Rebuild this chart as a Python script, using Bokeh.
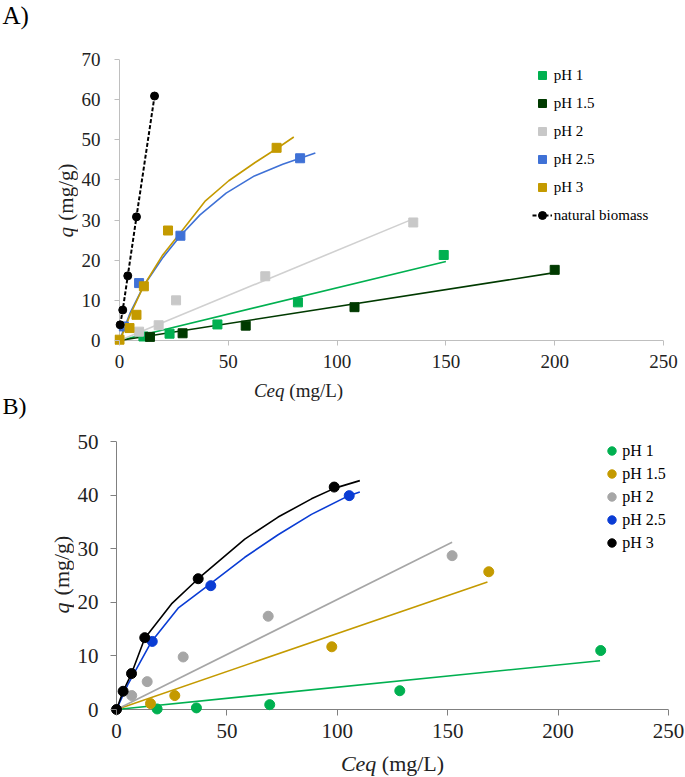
import math
from bokeh.plotting import figure
from bokeh.models import Range1d, Legend, LegendItem, Label, FixedTicker
from bokeh.layouts import column, row
from bokeh.embed import file_html
from bokeh.resources import INLINE

# ---------------- Panel A data (squares = pH series, natural biomass = dashed) -------------
a_ph1_x = [11, 23, 45, 82, 149]
a_ph1_y = [1.0, 1.7, 4.0, 9.5, 21.3]
a_ph1_fit_x = [0, 150]
a_ph1_fit_y = [0, 19.7]

a_ph15_x = [14, 29, 58, 108, 200]
a_ph15_y = [0.9, 1.8, 3.7, 8.3, 17.6]
a_ph15_fit_x = [0, 200]
a_ph15_fit_y = [0, 16.9]

a_ph2_x = [9, 18, 26, 67, 135]
a_ph2_y = [2.2, 3.8, 10.0, 16.0, 29.4]
a_ph2_fit_x = [0, 135]
a_ph2_fit_y = [0, 30.3]

a_ph25_x = [2, 9, 28, 83]
a_ph25_y = [3.5, 14.3, 26.1, 45.4]
a_ph25_fit_x = [0, 5, 11, 20, 28, 37, 49, 62, 75, 83, 90]
a_ph25_fit_y = [0, 7.0, 13.5, 20.7, 26.1, 31.3, 36.7, 41.0, 43.9, 45.4, 46.7]

a_ph3_x = [0, 4.6, 7.8, 11.2, 22.3, 72.2]
a_ph3_y = [0.2, 3.1, 6.4, 13.5, 27.4, 48.0]
a_ph3_fit_x = [0.5, 5, 11.2, 19.6, 28.8, 39.5, 50.2, 62.5, 72.5, 80.1]
a_ph3_fit_y = [0.4, 6.5, 13.7, 21.1, 27.4, 34.8, 39.8, 44.4, 47.9, 50.7]

a_nat_x = [0.3, 1.5, 3.8, 7.8, 16.1]
a_nat_y = [3.9, 7.6, 16.1, 30.8, 60.9]

a_xticks = [0, 50, 100, 150, 200, 250]
a_yticks = [0, 10, 20, 30, 40, 50, 60, 70]

# ---------------- Panel B data (circles) -------------
b_ph1_x = [18.4, 36.2, 69.4, 128.3, 219.3]
b_ph1_y = [0.1, 0.3, 0.9, 3.5, 11.0]
b_ph1_fit_x = [0, 219]
b_ph1_fit_y = [0, 9.1]

b_ph15_x = [15.4, 26.4, 97.5, 168.6]
b_ph15_y = [1.1, 2.6, 11.7, 25.7]
b_ph15_fit_x = [0, 168]
b_ph15_fit_y = [0, 23.8]

b_ph2_x = [6.9, 13.9, 30.2, 68.7, 152]
b_ph2_y = [2.6, 5.2, 9.8, 17.4, 28.7]
b_ph2_fit_x = [0, 152]
b_ph2_fit_y = [0, 31.2]

b_ph25_x = [16.2, 42.7, 105.4]
b_ph25_y = [12.7, 23.1, 39.9]
b_ph25_fit_x = [0, 5.3, 15.9, 27.9, 42.6, 58.1, 73.2, 88.3, 105.2, 110.2]
b_ph25_fit_y = [0, 4.8, 12.7, 18.9, 23.5, 28.4, 32.6, 36.4, 39.9, 40.6]

b_ph3_x = [0, 3.0, 6.8, 12.8, 37.0, 98.6]
b_ph3_y = [0, 3.4, 6.7, 13.4, 24.4, 41.5]
b_ph3_fit_x = [0, 3, 6.8, 12.8, 24.9, 37, 58.1, 73.2, 88.3, 98.9, 110.2]
b_ph3_fit_y = [0, 3.4, 6.7, 13.3, 19.7, 24.4, 31.8, 35.9, 39.3, 41.3, 42.7]

b_xticks = [0, 50, 100, 150, 200, 250]
b_yticks = [0, 10, 20, 30, 40, 50]

series_labels = ["pH 1", "pH 1.5", "pH 2", "pH 2.5", "pH 3"]

# ---------------- styles -------------
SERIF = "Liberation Serif"
TXT = "#222222"
A_COL = ["#00B050", "#003A00", "#C8C8C8", "#3F71D6", "#C49A00"]
A_FIT = ["#00B050", "#003A00", "#D0D0D0", "#3F71D6", "#C49A00"]
B_COL = ["#00B050", "#C49A00", "#A6A6A6", "#0A3CD4", "#000000"]
W = 685


def style(p, xt, yt, tick_font, tick_len, std_x, std_y, tick_color):
    p.grid.visible = False
    p.outline_line_color = None
    p.xaxis.ticker = FixedTicker(ticks=xt)
    p.yaxis.ticker = FixedTicker(ticks=yt)
    for ax in (p.xaxis[0], p.yaxis[0]):
        ax.axis_line_color = None
        ax.major_tick_line_color = tick_color
        ax.major_tick_in = tick_len
        ax.major_tick_out = 0
        ax.minor_tick_line_color = None
        ax.major_label_text_font = SERIF
        ax.major_label_text_font_size = tick_font
        ax.major_label_text_color = TXT
    p.xaxis.major_label_standoff = std_x
    p.yaxis.major_label_standoff = std_y


def strip(w, h, x0, x1, ytop, ybot, bt=0, bb=0):
    """Text-only figure whose data coordinates are page pixels."""
    s = figure(frame_width=w, frame_height=h, x_range=Range1d(x0, x1),
               y_range=Range1d(ybot, ytop), title=None,
               x_axis_location=None, y_axis_location=None,
               min_border_left=0, min_border_right=0, min_border_top=bt, min_border_bottom=bb,
               output_backend="svg", toolbar_location=None)
    s.grid.visible = False
    s.outline_line_color = None
    return s


def txt(fig, x, y, text, size, italic=False, angle=0.0, align="left", color=TXT):
    fig.add_layout(Label(x=x, y=y, text=text, angle=angle, text_font=SERIF,
                         text_font_size=size, text_font_style="italic" if italic else "normal",
                         text_color=color, text_align=align, text_baseline="middle"))


# ================= Panel A =================
A_SX = 544 / 250      # px per unit
A_SY = 281 / 70
PAD_A = 5
# frame: page x 114..663, page y 59..345 ; figure canvas page y 30..378
pA = figure(frame_width=549, frame_height=286, title=None,
            min_border_left=36, min_border_right=22, min_border_top=29, min_border_bottom=33,
            x_range=Range1d(-PAD_A / A_SX, 250), y_range=Range1d(-PAD_A / A_SY, 70),
            output_backend="svg", toolbar_location=None)
style(pA, a_xticks, a_yticks, "19px", PAD_A, 9, 14, "#BFBFBF")
pA.line([a_xticks[0], a_xticks[-1]], [0, 0], line_color="#BFBFBF", line_width=1)
pA.line([0, 0], [a_yticks[0], a_yticks[-1]], line_color="#BFBFBF", line_width=1)

a_pts = [(a_ph1_x, a_ph1_y), (a_ph15_x, a_ph15_y), (a_ph2_x, a_ph2_y),
         (a_ph25_x, a_ph25_y), (a_ph3_x, a_ph3_y)]
a_fits = [(a_ph1_fit_x, a_ph1_fit_y), (a_ph15_fit_x, a_ph15_fit_y), (a_ph2_fit_x, a_ph2_fit_y),
          (a_ph25_fit_x, a_ph25_fit_y), (a_ph3_fit_x, a_ph3_fit_y)]
a_items = []
for i, (fx, fy) in enumerate(a_fits):
    pA.line(fx, fy, line_color=A_FIT[i], line_width=1.6)
for i, (x, y) in enumerate(a_pts):
    r = pA.scatter(x, y, marker="square", size=9, fill_color=A_COL[i], line_color=A_COL[i])
    a_items.append(LegendItem(label=series_labels[i], renderers=[r]))
nl = pA.line(a_nat_x, a_nat_y, line_color="black", line_width=2, line_dash="4 2")
ns = pA.scatter(a_nat_x, a_nat_y, marker="circle", size=8, fill_color="black", line_color="black")
a_items.append(LegendItem(label="natural biomass", renderers=[nl, ns]))

legA = Legend(items=a_items, location=(531.7 - 114, 345 - 225), padding=0, margin=0,
              glyph_width=20, glyph_height=20, label_height=20, spacing=8, label_standoff=2,
              label_text_font=SERIF, label_text_font_size="15px", label_text_color="black",
              border_line_color=None, background_fill_alpha=0)
pA.add_layout(legA)

# top strip: "A)"
sTop = strip(W, 30, 0, W, 0, 30)
txt(sTop, 2, 15, "A)", "25px", color="black")

# left strip of A (same vertical borders as pA): y title
sA = strip(78, 286, 0, 78, 59, 345, bt=29, bb=33)
txt(sA, 65, 231.7, "q", "21px", italic=True, angle=math.pi / 2, align="center")
txt(sA, 65, 191.6, "(mg/g)", "21px", angle=math.pi / 2, align="center")

# middle strip: x title of A and "B)"
sM = strip(W, 42, 0, W, 378, 420)
txt(sM, 253.4, 389.5, "Ceq", "19px", italic=True)
txt(sM, 288.8, 389.5, "(mg/L)", "19px")
txt(sM, 2, 405, "B)", "24px", color="black")

# ================= Panel B =================
B_SX = 552 / 250
B_SY = 268 / 50
PAD_B = 6
# frame: page x 109..667, page y 441..715 ; canvas page y 420..748
pB = figure(frame_width=558, frame_height=274, title=None,
            min_border_left=35, min_border_right=18, min_border_top=21, min_border_bottom=33,
            x_range=Range1d(-PAD_B / B_SX, 250), y_range=Range1d(-PAD_B / B_SY, 50),
            output_backend="svg", toolbar_location=None)
style(pB, b_xticks, b_yticks, "21px", PAD_B, 8, 12, "#808080")
pB.line([b_xticks[0], b_xticks[-1]], [0, 0], line_color="#808080", line_width=1)
pB.line([0, 0], [b_yticks[0], b_yticks[-1]], line_color="#808080", line_width=1)

b_pts = [(b_ph1_x, b_ph1_y), (b_ph15_x, b_ph15_y), (b_ph2_x, b_ph2_y),
         (b_ph25_x, b_ph25_y), (b_ph3_x, b_ph3_y)]
b_fits = [(b_ph1_fit_x, b_ph1_fit_y), (b_ph15_fit_x, b_ph15_fit_y), (b_ph2_fit_x, b_ph2_fit_y),
          (b_ph25_fit_x, b_ph25_fit_y), (b_ph3_fit_x, b_ph3_fit_y)]
b_items = []
for i, (fx, fy) in enumerate(b_fits):
    pB.line(fx, fy, line_color=B_COL[i], line_width=1.6)
for i, (x, y) in enumerate(b_pts):
    r = pB.scatter(x, y, marker="circle", size=10, fill_color=B_COL[i], line_color=B_COL[i])
    b_items.append(LegendItem(label=series_labels[i], renderers=[r]))

legB = Legend(items=b_items, location=(600.2 - 109, 715 - 554.2), padding=0, margin=0,
              glyph_width=21, glyph_height=23, label_height=23, spacing=0, label_standoff=0,
              label_text_font=SERIF, label_text_font_size="16px", label_text_color="black",
              border_line_color=None, background_fill_alpha=0)
pB.add_layout(legB)

sB = strip(74, 274, 0, 74, 441, 715, bt=21, bb=33)
txt(sB, 61, 607.5, "q", "22px", italic=True, angle=math.pi / 2, align="center")
txt(sB, 61, 565, "(mg/g)", "22px", angle=math.pi / 2, align="center")

sBot = strip(W, 28, 0, W, 748, 776)
txt(sBot, 340.4, 762.5, "Ceq", "22px", italic=True)
txt(sBot, 381.3, 762.5, "(mg/L)", "22px")

layout = column(sTop, row(sA, pA), sM, row(sB, pB), sBot)
open("out.html", "w").write(file_html(layout, INLINE))
